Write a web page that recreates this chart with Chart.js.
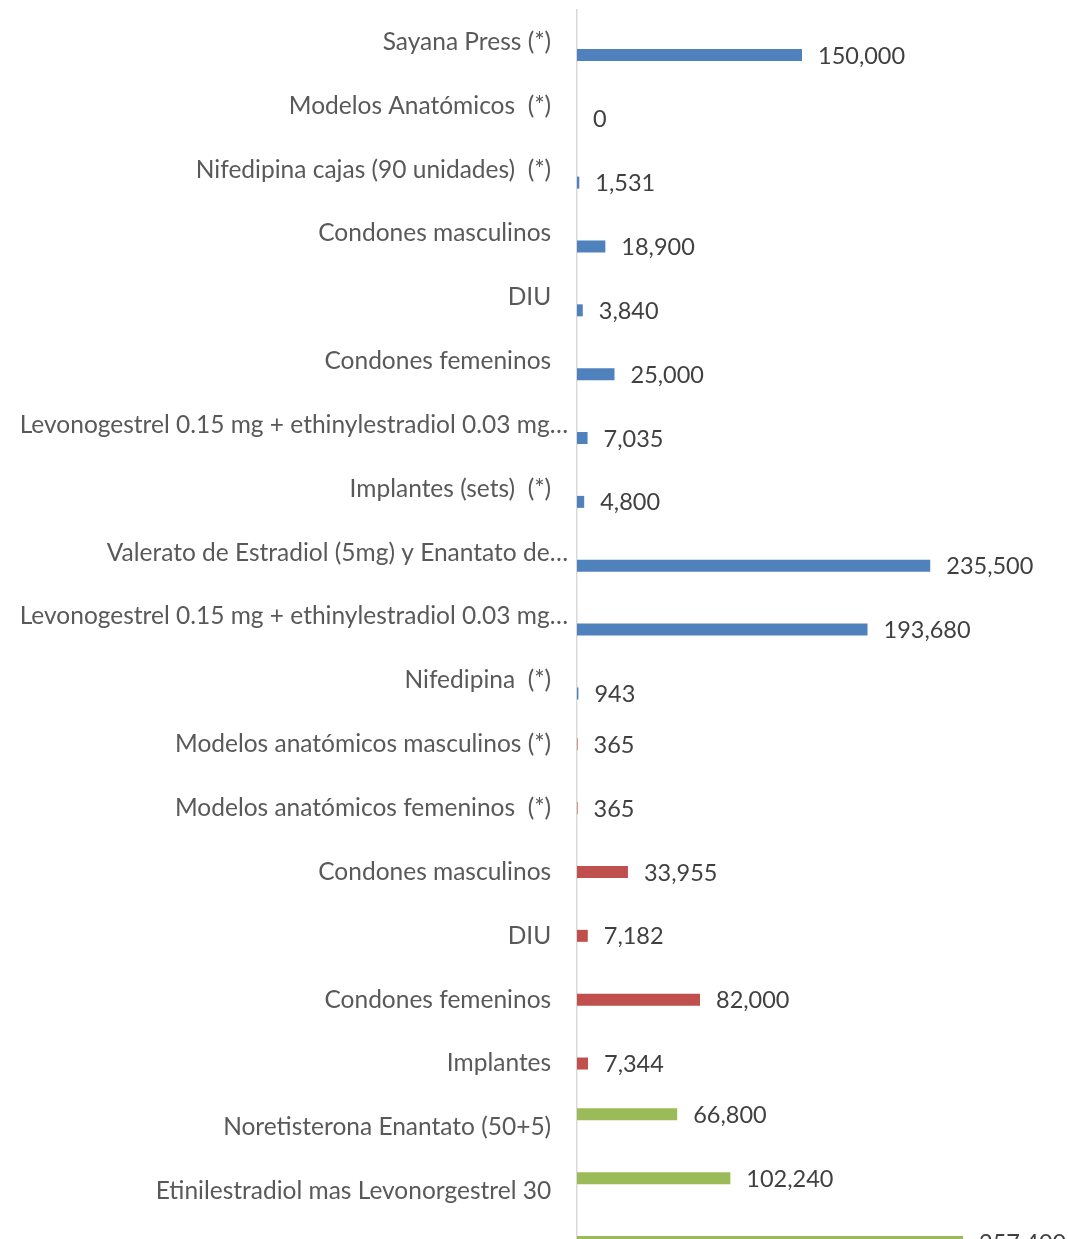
<!DOCTYPE html>
<html>
<head>
<meta charset="utf-8">
<script src="https://cdn.jsdelivr.net/npm/chart.js@4.4.1/dist/chart.umd.min.js"></script>
<style>
    html, body { margin: 0; padding: 0; background: #ffffff; overflow: hidden; }
    #wrap { position: relative; width: 1068px; height: 1300px; }
</style>
</head>
<body>
<div id="wrap"><canvas id="insumosChart"></canvas></div>
<script>
// Categorías (de arriba hacia abajo)
const categories = [
    "Sayana Press (*)",
    "Modelos Anatómicos  (*)",
    "Nifedipina cajas (90 unidades)  (*)",
    "Condones masculinos",
    "DIU",
    "Condones femeninos",
    "Levonogestrel 0.15 mg + ethinylestradiol 0.03 mg…",
    "Implantes (sets)  (*)",
    "Valerato de Estradiol (5mg) y Enantato de…",
    "Levonogestrel 0.15 mg + ethinylestradiol 0.03 mg…",
    "Nifedipina  (*)",
    "Modelos anatómicos masculinos (*)",
    "Modelos anatómicos femeninos  (*)",
    "Condones masculinos",
    "DIU",
    "Condones femeninos",
    "Implantes",
    "Noretisterona Enantato (50+5)",
    "Etinilestradiol mas Levonorgestrel 30",
    ""
];

// Serie verde (posición superior en cada categoría)
const greenValues = [null, null, null, null, null, null, null, null, null, null,
    null, null, null, null, null, null, null, 66800, 102240, 257400];

// Serie roja (posición central)
const redValues = [null, null, null, null, null, null, null, null, null, null,
    null, 365, 365, 33955, 7182, 82000, 7344, null, null, null];

// Serie azul (posición inferior)
const blueValues = [150000, 0, 1531, 18900, 3840, 25000, 7035, 4800, 235500, 193680,
    943, null, null, null, null, null, null, null, null, null];

const FONT = "Lato, 'Open Sans', sans-serif";
const LABEL_SIZE = 24.5;
const VALUE_SIZE = 23.5;

let insumosChart;

// Etiquetas de valor al final de cada barra
const valueLabels = {
    id: 'valueLabels',
    afterDatasetsDraw(chart) {
        const ctx = chart.ctx;
        ctx.save();
        ctx.font = VALUE_SIZE + "px " + FONT;
        ctx.fillStyle = '#404040';
        ctx.textAlign = 'left';
        ctx.textBaseline = 'middle';
        chart.data.datasets.forEach((ds, i) => {
            const meta = chart.getDatasetMeta(i);
            meta.data.forEach((bar, j) => {
                const v = ds.data[j];
                if (v === null || v === undefined) return;
                ctx.fillText(v.toLocaleString('en-US'), bar.x + 16, bar.y + 1);
            });
        });
        ctx.restore();
    }
};

function initializeChart() {
    const ctx = document.getElementById('insumosChart').getContext('2d');
    insumosChart = new Chart(ctx, {
        type: 'bar',
        data: {
            labels: categories,
            datasets: [
                { data: greenValues, backgroundColor: '#9bbb59' },
                { data: redValues, backgroundColor: '#c0504d' },
                { data: blueValues, backgroundColor: '#4f81bd' }
            ]
        },
        options: {
            indexAxis: 'y',
            responsive: true,
            maintainAspectRatio: false,
            animation: false,
            categoryPercentage: 0.611,
            barPercentage: 0.923,
            layout: { padding: { top: 10, bottom: 13, left: 0, right: 41 } },
            plugins: {
                legend: { display: false },
                tooltip: { enabled: false }
            },
            scales: {
                x: {
                    display: false,
                    min: 0,
                    max: 300000
                },
                y: {
                    afterFit: (scale) => {
                        scale.width = 577;
                        scale.paddingTop = 0;
                        scale.paddingBottom = 0;
                    },
                    grid: { display: false, drawTicks: false },
                    border: { display: true, color: '#d9d9d9', width: 1.5 },
                    ticks: {
                        autoSkip: false,
                        padding: 9,
                        color: '#595959',
                        font: { family: FONT, size: LABEL_SIZE },
                        // las etiquetas truncadas llegan más cerca del eje
                        callback: function (value) {
                            const label = this.getLabelForValue(value);
                            return label.endsWith('…') ? label : label + '\u2002\u2009\u200A';
                        }
                    }
                }
            }
        },
        plugins: [valueLabels]
    });
}

document.addEventListener("DOMContentLoaded", function () {
    initializeChart();
});
</script>
</body>
</html>
